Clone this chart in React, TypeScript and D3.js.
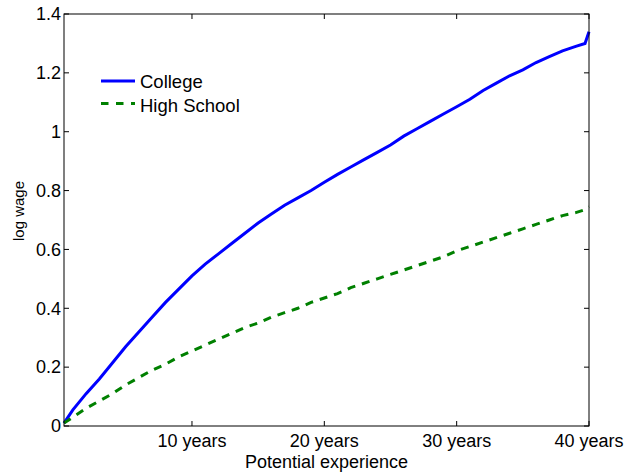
import React from 'react'
import * as d3 from 'd3'

// potential experience, in years
const years = [0.33, 1, 2, 3, 4, 5, 6, 7, 8, 9, 10, 11, 12, 13, 14, 15, 16, 17, 18, 19, 20,
  21, 22, 23, 24, 25, 26, 27, 28, 29, 30, 31, 32, 33, 34, 35, 36, 37, 38, 39, 39.7, 40]

const college = [0.01, 0.055, 0.11, 0.16, 0.215, 0.27, 0.32, 0.37, 0.42, 0.465, 0.51, 0.55,
  0.585, 0.62, 0.655, 0.69, 0.72, 0.75, 0.775, 0.80, 0.828, 0.855, 0.88, 0.905, 0.93, 0.955,
  0.985, 1.01, 1.035, 1.06, 1.085, 1.11, 1.14, 1.165, 1.19, 1.21, 1.235, 1.255, 1.275, 1.29,
  1.30, 1.34]

const highSchool = [0.01, 0.03, 0.06, 0.085, 0.11, 0.14, 0.165, 0.19, 0.21, 0.235, 0.255,
  0.275, 0.295, 0.315, 0.335, 0.35, 0.37, 0.385, 0.40, 0.42, 0.435, 0.45, 0.47, 0.485, 0.50,
  0.515, 0.53, 0.545, 0.56, 0.575, 0.595, 0.61, 0.625, 0.64, 0.655, 0.67, 0.685, 0.70, 0.715,
  0.725, 0.735, 0.745]

const xTicks = [10, 20, 30, 40]
const xTickLabels = ['10 years', '20 years', '30 years', '40 years']
const yTicks = [0, 0.2, 0.4, 0.6, 0.8, 1, 1.2, 1.4]

const seriesNames = ['College', 'High School']

const W = 626
const H = 472
const margin = { top: 14, right: 37, bottom: 46, left: 64 }
const font = 'Arial, "Liberation Sans", Helvetica, sans-serif'

export default function App () {
  const x = d3.scaleLinear().domain([0.33, 40]).range([margin.left, W - margin.right])
  const y = d3.scaleLinear().domain([0, 1.4]).range([H - margin.bottom, margin.top])
  const [x0, x1] = x.range()
  const [y0, y1] = y.range()
  const tick = 5

  const line = d3.line<number>()
    .x((d, i) => x(years[i]))
    .y((d) => y(d))

  return (
    <svg width={W} height={H} style={{ position: 'absolute', left: 0, top: 0, background: '#fff' }}
      fontFamily={font}>
      <rect x={0} y={0} width={W} height={H} fill='#fff' />

      <path d={line(college) || ''} fill='none' stroke='#0000ff' strokeWidth={3} />
      <path d={line(highSchool) || ''} fill='none' stroke='#008000' strokeWidth={3}
        strokeDasharray='8,7' />

      {/* box with mirrored ticks */}
      <rect x={x0} y={y1} width={x1 - x0} height={y0 - y1} fill='none' stroke='#000' strokeWidth={1} />
      {xTicks.map((t) => (
        <g key={'xt' + t}>
          <line x1={x(t)} x2={x(t)} y1={y0} y2={y0 - tick} stroke='#000' />
          <line x1={x(t)} x2={x(t)} y1={y1} y2={y1 + tick} stroke='#000' />
        </g>
      ))}
      {yTicks.map((t) => (
        <g key={'yt' + t}>
          <line x1={x0} x2={x0 + tick} y1={y(t)} y2={y(t)} stroke='#000' />
          <line x1={x1} x2={x1 - tick} y1={y(t)} y2={y(t)} stroke='#000' />
        </g>
      ))}

      {xTicks.map((t, i) => (
        <text key={'xl' + t} x={x(t)} y={447} textAnchor='middle' fontSize={18}>{xTickLabels[i]}</text>
      ))}
      {yTicks.map((t) => (
        <text key={'yl' + t} x={61} y={y(t)} dy='0.35em' textAnchor='end' fontSize={18}>{String(t)}</text>
      ))}

      <text x={(x0 + x1) / 2} y={468} textAnchor='middle' fontSize={18}>Potential experience</text>
      <text transform={`translate(24,${211}) rotate(-90)`} textAnchor='middle' fontSize={15}>log wage</text>

      {/* legend */}
      <line x1={101} x2={135} y1={81} y2={81} stroke='#0000ff' strokeWidth={3} />
      <text x={140} y={87.5} fontSize={18.5}>{seriesNames[0]}</text>
      <line x1={101} x2={135} y1={103.5} y2={103.5} stroke='#008000' strokeWidth={3}
        strokeDasharray='7.5,7.5' />
      <text x={140} y={111.5} fontSize={18.5}>{seriesNames[1]}</text>
    </svg>
  )
}
